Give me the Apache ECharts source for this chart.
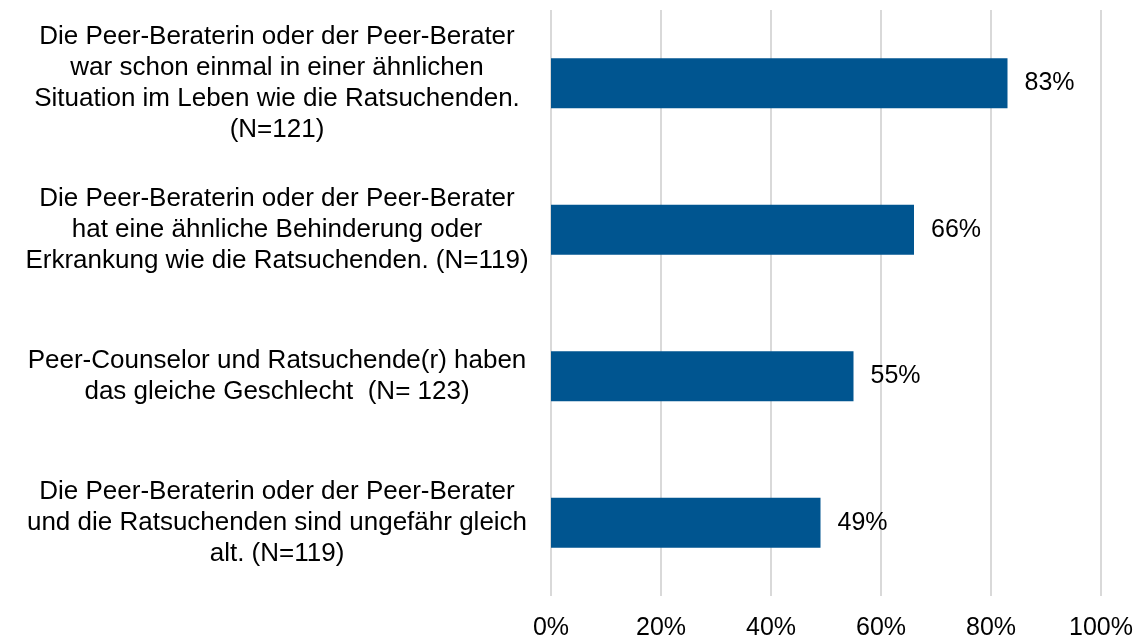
<!DOCTYPE html>
<html>
<head>
    <meta http-equiv="Content-Type" content="text/html; charset=utf-8">
    <title>Peer-Beratung</title>
    <script src="https://cdn.jsdelivr.net/npm/echarts@6.0.0/dist/echarts.min.js"></script>
</head>
<body style="margin:0;background:#fff;">
    <div id="chart" style="width:1139px;height:641px;"></div>
    <script type="text/javascript">
        // Kategorien von oben nach unten
        var categories = [
            'Die Peer-Beraterin oder der Peer-Berater\nwar schon einmal in einer ähnlichen\nSituation im Leben wie die Ratsuchenden.\n(N=121)',
            'Die Peer-Beraterin oder der Peer-Berater\nhat eine ähnliche Behinderung oder\nErkrankung wie die Ratsuchenden. (N=119)',
            'Peer-Counselor und Ratsuchende(r) haben\ndas gleiche Geschlecht  (N= 123)',
            'Die Peer-Beraterin oder der Peer-Berater\nund die Ratsuchenden sind ungefähr gleich\nalt. (N=119)'
        ];
        var values = [83, 66, 55, 49];

        var chart = echarts.init(document.getElementById('chart'));
        var option = {
            animation: false,
            textStyle: { fontFamily: 'Liberation Sans, Arial, sans-serif' },
            grid: { left: 551, right: 38, top: 10, bottom: 43 },
            xAxis: {
                type: 'value',
                min: 0,
                max: 100,
                interval: 20,
                axisLine: { show: false },
                axisTick: { show: false },
                axisLabel: {
                    formatter: '{value}%',
                    fontSize: 25,
                    color: '#000',
                    margin: 20
                },
                splitLine: { lineStyle: { color: '#d9d9d9', width: 2 } }
            },
            yAxis: {
                type: 'category',
                inverse: true,
                data: categories,
                axisLine: { show: false },
                axisTick: { show: false },
                axisLabel: {
                    align: 'center',
                    margin: 274,
                    fontSize: 26,
                    lineHeight: 31,
                    padding: [7, 0, 0, 0],
                    color: '#000'
                }
            },
            series: [{
                type: 'bar',
                data: values,
                barWidth: 50,
                itemStyle: { color: '#005590' },
                label: {
                    show: true,
                    position: 'right',
                    distance: 17,
                    formatter: '{c}%',
                    fontSize: 25,
                    color: '#000'
                }
            }]
        };
        chart.setOption(option);
    </script>
</body>
</html>
